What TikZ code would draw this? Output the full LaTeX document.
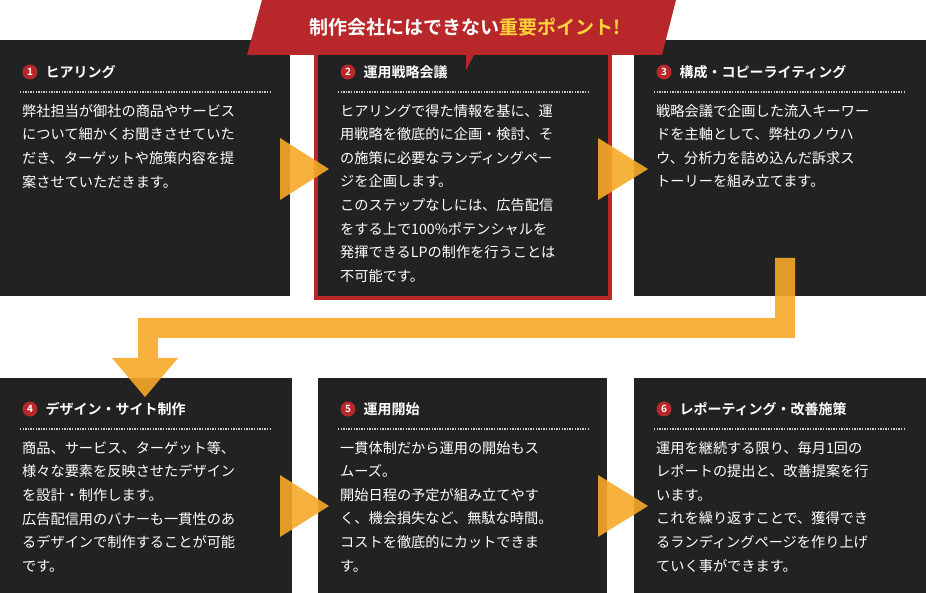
\documentclass[tikz,border=0pt]{standalone}
\usepackage{fontspec}
\setmainfont{Noto Sans CJK JP}
\newfontfamily\jpb{Noto Sans CJK JP Bold}
\newfontfamily\jps{Noto Sans CJK JP}
\begin{document}
\begin{tikzpicture}[x=1pt,y=-1pt,
  panel/.style={fill=panelc,draw=none},
  numc/.style={circle,fill=redc,text=white,inner sep=0pt,minimum size=15pt,font=\jpb\fontsize{10}{10}\selectfont},
  ttl/.style={anchor=west,text=white,font=\jpb\fontsize{14}{14}\selectfont},
  body/.style={anchor=north west,text=white,align=left,font=\jps\fontsize{14.2}{23.6}\selectfont,inner sep=0pt},
  dots/.style={draw=white!80!black,line width=1.3pt,dash pattern=on 1.3pt off 1.3pt},
  arr/.style={fill=orangec,fill opacity=0.9,draw=none}]
\definecolor{panelc}{HTML}{222222}
\definecolor{redc}{HTML}{B8282A}
\definecolor{orangec}{HTML}{F7A928}
\definecolor{yel}{HTML}{FFD23A}
\useasboundingbox (0,0) rectangle (926,593);
\fill[white] (0,0) rectangle (926,593);
% panels
\fill[panel] (0,40) rectangle (290,296);
\fill[redc] (314,40) rectangle (612,300);
\fill[panel] (318,40) rectangle (608,296);
\fill[panel] (634,40) rectangle (926,296);
\fill[panel] (0,378) rectangle (292,593);
\fill[panel] (318,378) rectangle (607,593);
\fill[panel] (634,378) rectangle (926,593);
% banner
\fill[redc] (262,0) -- (676,0) -- (662,55) -- (474,55) -- (466,70) -- (466,55) -- (247,55) -- cycle;
\node (ban) at (465,27) {\jpb\fontsize{19}{19}\selectfont\textcolor{white}{制作会社にはできない}\textcolor{yel}{重要ポイント!}};
% headers
\foreach \x/\n/\t [count=\i] in {30/1/ヒアリング,348/2/運用戦略会議,664/3/構成・コピーライティング}{
  \node[numc] (n\i) at (\x,72) {\n};
  \node[ttl] (t\i) at (\x+12,72) {\t};
  \draw[dots] (\x-10,92) -- (\x+240,92);
}
\foreach \x/\n/\t [count=\i from 4] in {30/4/デザイン・サイト制作,348/5/運用開始,664/6/レポーティング・改善施策}{
  \node[numc] (n\i) at (\x,409) {\n};
  \node[ttl] (t\i) at (\x+12,409) {\t};
  \draw[dots] (\x-10,429) -- (\x+240,429);
}
% bodies
\node[body] (b1) at (22,104) {弊社担当が御社の商品やサービス\\について細かくお聞きさせていた\\だき、ターゲットや施策内容を提\\案させていただきます。};
\node[body] (b2) at (340,104) {ヒアリングで得た情報を基に、運\\用戦略を徹底的に企画・検討、そ\\の施策に必要なランディングペー\\ジを企画します。\\このステップなしには、広告配信\\をする上で100\%ポテンシャルを\\発揮できるLPの制作を行うことは\\不可能です。};
\node[body] (b3) at (656,104) {戦略会議で企画した流入キーワー\\ドを主軸として、弊社のノウハ\\ウ、分析力を詰め込んだ訴求ス\\トーリーを組み立てます。};
\node[body] (b4) at (22,441) {商品、サービス、ターゲット等、\\様々な要素を反映させたデザイン\\を設計・制作します。\\広告配信用のバナーも一貫性のあ\\るデザインで制作することが可能\\です。};
\node[body] (b5) at (340,441) {一貫体制だから運用の開始もス\\ムーズ。\\開始日程の予定が組み立てやす\\く、機会損失など、無駄な時間。\\コストを徹底的にカットできま\\す。};
\node[body] (b6) at (656,441) {運用を継続する限り、毎月1回の\\レポートの提出と、改善提案を行\\います。\\これを繰り返すことで、獲得でき\\るランディングページを作り上げ\\ていく事ができます。};
% arrows
\fill[arr] (280,138) -- (329,169) -- (280,200) -- cycle;
\fill[arr] (598,138) -- (648,169) -- (598,200) -- cycle;
\fill[arr] (280,475) -- (329,506) -- (280,537) -- cycle;
\fill[arr] (598,475) -- (648,506) -- (598,537) -- cycle;
\fill[arr] (775,258) -- (795,258) -- (795,338) -- (158,338) -- (158,358) -- (178,358) -- (145,397) -- (112,358) -- (138,358) -- (138,318) -- (775,318) -- cycle;
\end{tikzpicture}
\end{document}
